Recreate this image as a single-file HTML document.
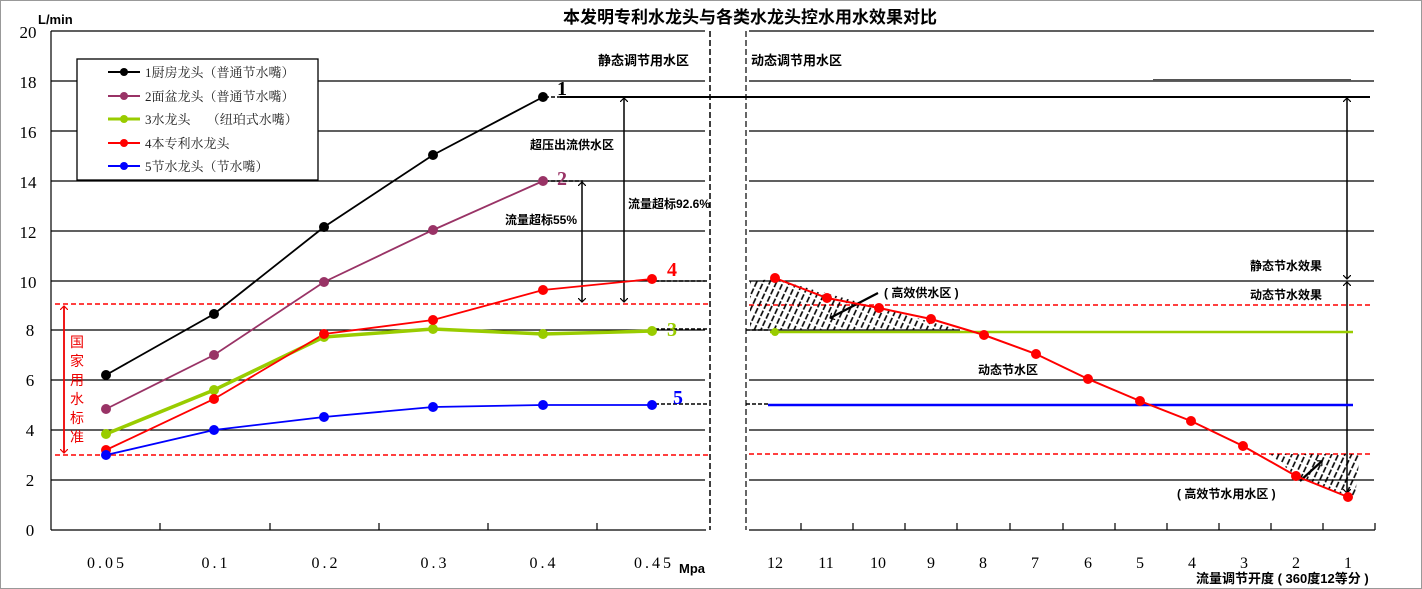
<!DOCTYPE html>
<html><head><meta charset="utf-8"><style>
body{margin:0;background:#fff;}
svg{display:block;font-family:"Liberation Sans","Noto Sans CJK SC",sans-serif;}
.s{font-family:"Liberation Serif","Noto Serif CJK SC",serif;}
</style></head><body>
<svg width="1422" height="589" viewBox="0 0 1422 589" xmlns="http://www.w3.org/2000/svg">
<defs>
<marker id="ah" markerWidth="8" markerHeight="8" refX="4" refY="4" orient="auto-start-reverse" markerUnits="userSpaceOnUse"><path d="M0,0 L4,4 L0,8" fill="none" stroke="#000" stroke-width="1.2"/></marker>
<marker id="ahr" markerWidth="8" markerHeight="8" refX="4" refY="4" orient="auto-start-reverse" markerUnits="userSpaceOnUse"><path d="M0,0 L4,4 L0,8" fill="none" stroke="#e00" stroke-width="1.2"/></marker>
<pattern id="hatch" width="6" height="8" patternUnits="userSpaceOnUse" patternTransform="rotate(25)"><line x1="1" y1="0" x2="1" y2="8" stroke="#000" stroke-width="1.6" stroke-dasharray="5,2"/></pattern>
</defs>
<rect x="0.5" y="0.5" width="1421" height="588" fill="none" stroke="#999"/>
<text x="750" y="23" text-anchor="middle" font-size="17" font-weight="bold">本发明专利水龙头与各类水龙头控水用水效果对比</text>
<text x="38" y="24" font-size="13" font-weight="bold">L/min</text>
<g class="s" font-size="17" text-anchor="middle">
<text x="28" y="38">20</text><text x="28" y="88">18</text><text x="28" y="138">16</text><text x="28" y="188">14</text><text x="28" y="238">12</text><text x="28" y="288">10</text><text x="30" y="336">8</text><text x="30" y="386">6</text><text x="30" y="436">4</text><text x="30" y="486">2</text><text x="30" y="536">0</text>
</g>
<g stroke="#000" stroke-width="1.2">
<line x1="51" y1="31" x2="705" y2="31"/><line x1="51" y1="81" x2="705" y2="81"/><line x1="51" y1="131" x2="705" y2="131"/><line x1="51" y1="181" x2="705" y2="181"/><line x1="51" y1="231" x2="705" y2="231"/><line x1="51" y1="281" x2="705" y2="281"/><line x1="51" y1="330" x2="705" y2="330"/><line x1="51" y1="380" x2="705" y2="380"/><line x1="51" y1="430" x2="705" y2="430"/><line x1="51" y1="480" x2="705" y2="480"/>
<line x1="51" y1="31" x2="51" y2="530"/><line x1="51" y1="530" x2="706" y2="530"/>
<line x1="160" y1="523" x2="160" y2="530"/><line x1="270" y1="523" x2="270" y2="530"/><line x1="379" y1="523" x2="379" y2="530"/><line x1="488" y1="523" x2="488" y2="530"/><line x1="597" y1="523" x2="597" y2="530"/>
</g>
<g stroke="#000" stroke-width="1.2">
<line x1="749" y1="31" x2="1374" y2="31"/><line x1="749" y1="81" x2="1374" y2="81"/><line x1="749" y1="131" x2="1374" y2="131"/><line x1="749" y1="181" x2="1374" y2="181"/><line x1="749" y1="231" x2="1374" y2="231"/><line x1="749" y1="281" x2="1374" y2="281"/><line x1="749" y1="380" x2="1374" y2="380"/><line x1="749" y1="430" x2="1374" y2="430"/><line x1="749" y1="480" x2="1374" y2="480"/>
<line x1="749" y1="530" x2="1375" y2="530"/>
<line x1="801" y1="523" x2="801" y2="530"/><line x1="853" y1="523" x2="853" y2="530"/><line x1="905" y1="523" x2="905" y2="530"/><line x1="957" y1="523" x2="957" y2="530"/><line x1="1010" y1="523" x2="1010" y2="530"/><line x1="1063" y1="523" x2="1063" y2="530"/><line x1="1115" y1="523" x2="1115" y2="530"/><line x1="1167" y1="523" x2="1167" y2="530"/><line x1="1219" y1="523" x2="1219" y2="530"/><line x1="1271" y1="523" x2="1271" y2="530"/><line x1="1323" y1="523" x2="1323" y2="530"/><line x1="1375" y1="523" x2="1375" y2="530"/>
</g>
<line x1="710" y1="31" x2="710" y2="530" stroke="#000" stroke-width="1.5" stroke-dasharray="6,3"/>
<line x1="746" y1="31" x2="746" y2="530" stroke="#000" stroke-width="1.2" stroke-dasharray="6,3"/>
<g stroke="#f00" stroke-width="1.5" stroke-dasharray="5,3">
<line x1="55" y1="304" x2="708" y2="304"/><line x1="55" y1="455" x2="708" y2="455"/>
<line x1="749" y1="305" x2="1370" y2="305"/><line x1="749" y1="454" x2="1370" y2="454"/>
</g>
<polygon points="750,281 775,279 960,330 750,330" fill="url(#hatch)"/>
<line x1="750" y1="330" x2="960" y2="330" stroke="#000" stroke-width="1.2"/>
<polygon points="1270,454 1360,454 1355,497 1348,497 1297,477" fill="url(#hatch)"/>
<line x1="560" y1="97" x2="1370" y2="97" stroke="#000" stroke-width="2"/>
<line x1="1153" y1="80" x2="1351" y2="80" stroke="#555" stroke-width="2"/>
<g stroke="#000" stroke-width="1.5" stroke-dasharray="4,2">
<line x1="545" y1="97" x2="625" y2="97"/><line x1="545" y1="181" x2="583" y2="181"/><line x1="655" y1="281" x2="708" y2="281"/><line x1="655" y1="329" x2="708" y2="329"/><line x1="655" y1="404" x2="708" y2="404"/><line x1="746" y1="404" x2="768" y2="404"/><line x1="746" y1="330" x2="768" y2="330"/>
</g>
<g stroke="#000" stroke-width="1.5" fill="none">
<line x1="582" y1="182" x2="582" y2="302" marker-start="url(#ah)" marker-end="url(#ah)"/>
<line x1="624" y1="98" x2="624" y2="302" marker-start="url(#ah)" marker-end="url(#ah)"/>
<line x1="1347" y1="98" x2="1347" y2="279" marker-start="url(#ah)" marker-end="url(#ah)"/>
<line x1="1347" y1="282" x2="1347" y2="493" marker-start="url(#ah)" marker-end="url(#ah)"/>
<line x1="878" y1="293" x2="830" y2="318" stroke-width="2.2" marker-end="url(#ah)"/>
<line x1="1300" y1="481" x2="1322" y2="461" stroke-width="2.2" marker-end="url(#ah)"/>
</g>
<line x1="64" y1="306" x2="64" y2="453" stroke="#e00" stroke-width="1.8" marker-start="url(#ahr)" marker-end="url(#ahr)"/>
<g fill="#e00" font-size="14" text-anchor="middle"><text x="77" y="347">国</text><text x="77" y="366">家</text><text x="77" y="385">用</text><text x="77" y="404">水</text><text x="77" y="423">标</text><text x="77" y="442">准</text></g>
<g stroke-width="1.8" fill="none">
<polyline stroke="#000" points="106,375 214,314 324,227 433,155 543,97"/>
<polyline stroke="#993366" points="106,409 214,355 324,282 433,230 543,181"/>
<polyline stroke="#99cc00" stroke-width="3.5" points="106,434 214,390 324,337 433,329 543,334 652,331"/>
<polyline stroke="#f00" points="106,450 214,399 324,334 433,320 543,290 652,279"/>
<polyline stroke="#00f" points="106,455 214,430 324,417 433,407 543,405 652,405"/>
<polyline stroke="#99cc00" stroke-width="2.5" points="770,332 1353,332"/>
<polyline stroke="#00f" stroke-width="2.5" points="768,405 1353,405"/>
<polyline stroke="#f00" stroke-width="2" points="775,278 827,298 879,308 931,319 984,335 1036,354 1088,379 1140,401 1191,421 1243,446 1296,476 1348,497"/>
</g>
<g>
<g fill="#000"><circle cx="106" cy="375" r="5"/><circle cx="214" cy="314" r="5"/><circle cx="324" cy="227" r="5"/><circle cx="433" cy="155" r="5"/><circle cx="543" cy="97" r="5"/></g>
<g fill="#993366"><circle cx="106" cy="409" r="5"/><circle cx="214" cy="355" r="5"/><circle cx="324" cy="282" r="5"/><circle cx="433" cy="230" r="5"/><circle cx="543" cy="181" r="5"/></g>
<g fill="#99cc00"><circle cx="106" cy="434" r="5"/><circle cx="214" cy="390" r="5"/><circle cx="324" cy="337" r="5"/><circle cx="433" cy="329" r="5"/><circle cx="543" cy="334" r="5"/><circle cx="652" cy="331" r="5"/><circle cx="775" cy="332" r="4"/></g>
<g fill="#f00"><circle cx="106" cy="450" r="5"/><circle cx="214" cy="399" r="5"/><circle cx="324" cy="334" r="5"/><circle cx="433" cy="320" r="5"/><circle cx="543" cy="290" r="5"/><circle cx="652" cy="279" r="5"/>
<circle cx="775" cy="278" r="5"/><circle cx="827" cy="298" r="5"/><circle cx="879" cy="308" r="5"/><circle cx="931" cy="319" r="5"/><circle cx="984" cy="335" r="5"/><circle cx="1036" cy="354" r="5"/><circle cx="1088" cy="379" r="5"/><circle cx="1140" cy="401" r="5"/><circle cx="1191" cy="421" r="5"/><circle cx="1243" cy="446" r="5"/><circle cx="1296" cy="476" r="5"/><circle cx="1348" cy="497" r="5"/></g>
<g fill="#00f"><circle cx="106" cy="455" r="5"/><circle cx="214" cy="430" r="5"/><circle cx="324" cy="417" r="5"/><circle cx="433" cy="407" r="5"/><circle cx="543" cy="405" r="5"/><circle cx="652" cy="405" r="5"/></g>
</g>
<g class="s" font-size="20" font-weight="bold">
<text x="557" y="95" fill="#000">1</text><text x="557" y="185" fill="#993366">2</text><text x="667" y="336" fill="#99cc00">3</text><text x="667" y="276" fill="#f00">4</text><text x="673" y="404" fill="#00f">5</text>
</g>
<rect x="77" y="59" width="241" height="121" fill="#fff" stroke="#000" stroke-width="1.3"/>
<g stroke-width="2"><line x1="108" y1="72" x2="140" y2="72" stroke="#000"/><line x1="108" y1="96" x2="140" y2="96" stroke="#993366"/><line x1="108" y1="119" x2="140" y2="119" stroke="#99cc00" stroke-width="3"/><line x1="108" y1="143" x2="140" y2="143" stroke="#f00"/><line x1="108" y1="166" x2="140" y2="166" stroke="#00f"/></g>
<circle cx="124" cy="72" r="4" fill="#000"/><circle cx="124" cy="96" r="4" fill="#993366"/><circle cx="124" cy="119" r="4" fill="#99cc00"/><circle cx="124" cy="143" r="4" fill="#f00"/><circle cx="124" cy="166" r="4" fill="#00f"/>
<g class="s" font-size="13" fill="#222">
<text x="145" y="77">1厨房龙头（普通节水嘴）</text><text x="145" y="101">2面盆龙头（普通节水嘴）</text><text x="145" y="124">3水龙头　 （纽珀式水嘴）</text><text x="145" y="148">4本专利水龙头</text><text x="145" y="171">5节水龙头（节水嘴）</text>
</g>
<g font-size="12" fill="#000" font-weight="bold">
<text x="598" y="65" font-size="13">静态调节用水区</text>
<text x="751" y="65" font-size="13">动态调节用水区</text>
<text x="530" y="149">超压出流供水区</text>
<text x="505" y="224">流量超标55%</text>
<text x="628" y="208">流量超标92.6%</text>
<text x="1250" y="270">静态节水效果</text>
<text x="1250" y="299">动态节水效果</text>
<text x="884" y="297">( 高效供水区 )</text>
<text x="978" y="374">动态节水区</text>
<text x="1177" y="498">( 高效节水用水区 )</text>
<text x="679" y="573" font-size="13">Mpa</text>
<text x="1196" y="583" font-size="13">流量调节开度 ( 360度12等分 )</text>
</g>
<g class="s" font-size="16" text-anchor="middle" letter-spacing="3">
<text x="107" y="568">0.05</text><text x="216" y="568">0.1</text><text x="326" y="568">0.2</text><text x="435" y="568">0.3</text><text x="544" y="568">0.4</text><text x="654" y="568">0.45</text>
</g>
<g class="s" font-size="16" text-anchor="middle">
<text x="775" y="568">12</text><text x="826" y="568">11</text><text x="878" y="568">10</text><text x="931" y="568">9</text><text x="983" y="568">8</text><text x="1035" y="568">7</text><text x="1088" y="568">6</text><text x="1140" y="568">5</text><text x="1192" y="568">4</text><text x="1244" y="568">3</text><text x="1296" y="568">2</text><text x="1348" y="568">1</text>
</g>
</svg>
</body></html>
